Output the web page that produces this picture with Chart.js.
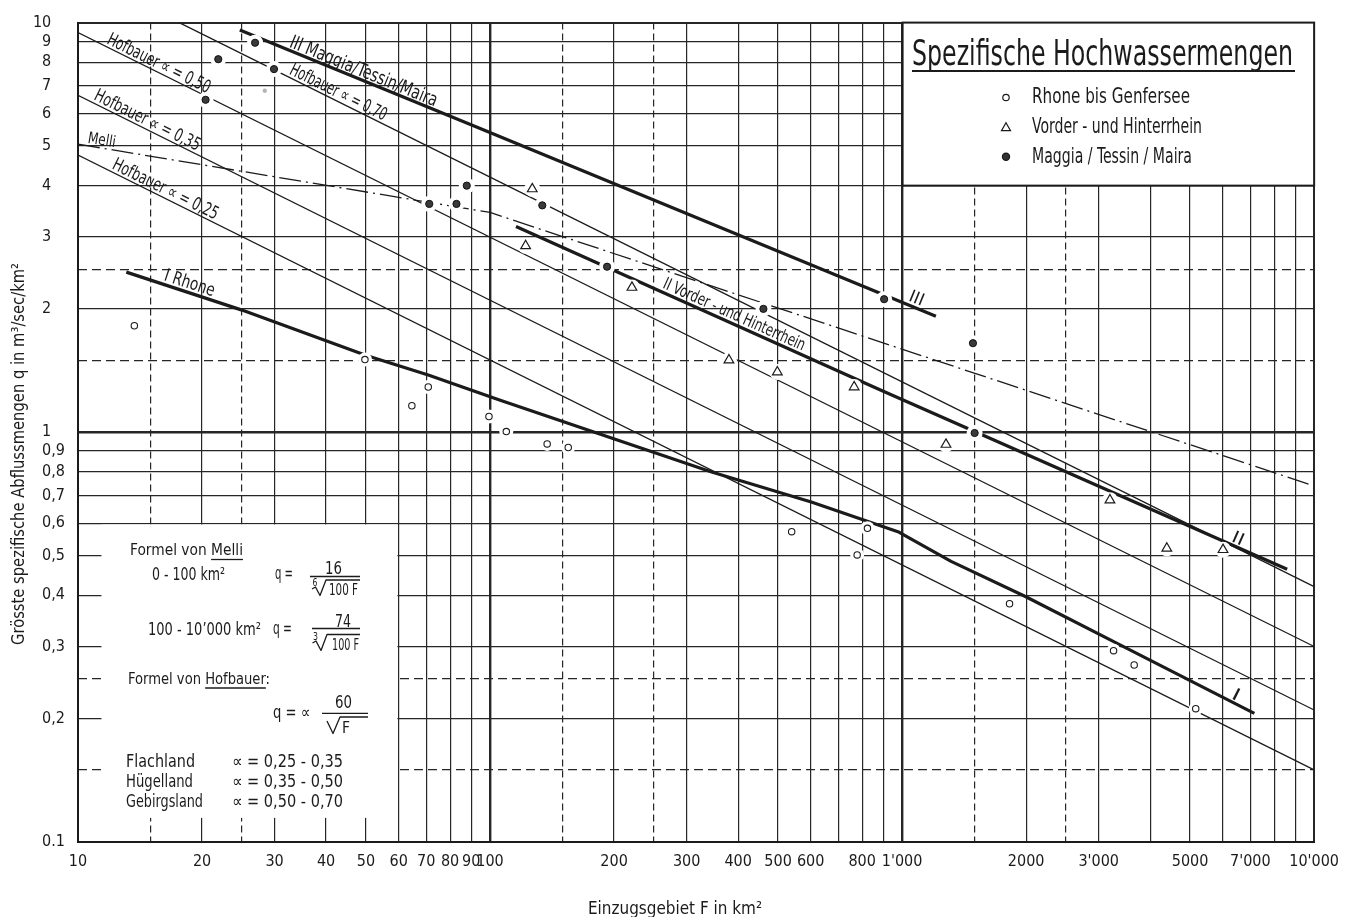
<!DOCTYPE html>
<html>
<head>
<meta charset="utf-8">
<title>Spezifische Hochwassermengen</title>
<script src="https://cdn.jsdelivr.net/npm/chart.js@4.4.1/dist/chart.umd.min.js"></script>
<style>
html,body{margin:0;padding:0;background:#ffffff;}
canvas{display:block;}
</style>
</head>
<body>
<canvas id="chart" width="1349" height="917"></canvas>
<script>
// ---------------- data ----------------
const xGridSolid  = [10,20,30,40,50,60,70,80,90,100,200,300,400,500,600,700,800,900,1000,2000,3000,4000,5000,6000,7000,8000,9000,10000];
const xGridDashed = [15,25,150,250,1500,2500];
const xTickValues = [10,20,30,40,50,60,70,80,90,100,200,300,400,500,600,800,1000,2000,3000,5000,7000,10000];
const xTickText   = ['10','20','30','40','50','60','70','80','90','100','200','300','400','500','600','800',"1'000",'2000',"3'000",'5000',"7'000","10'000"];
const yGridSolid  = [0.1,0.2,0.3,0.4,0.5,0.6,0.7,0.8,0.9,1,2,3,4,5,6,7,8,9,10];
const yGridDashed = [0.15,0.25,1.5,2.5];
const yTickText   = ['0.1','0,2','0,3','0,4','0,5','0,6','0,7','0,8','0,9','1','2','3','4','5','6','7','8','9','10'];

// observed points: F (km²) and q (m³/sec/km²)
const rhoneF  = [13.7, 49.7, 64.6, 70.8, 99.4, 109.5, 137.6, 154.8, 539.5, 824, 778, 1823, 3260, 3658, 5160];
const rhoneQ  = [1.82, 1.505, 1.161, 1.29, 1.093, 1.004, 0.937, 0.918, 0.572, 0.583, 0.502, 0.3815, 0.293, 0.2704, 0.2115];
const rheinF  = [126.6, 122, 221, 380, 498, 765, 1278, 3195, 4390, 6010];
const rheinQ  = [3.926, 2.851, 2.257, 1.50, 1.403, 1.29, 0.934, 0.683, 0.521, 0.517];
const maggiaF = [20.4, 21.9, 26.9, 29.9, 71.2, 82.9, 87.8, 133.9, 192.3, 460.7, 904.5, 1486, 1500];
const maggiaQ = [6.48, 8.14, 8.93, 7.70, 3.61, 3.61, 4.0, 3.58, 2.536, 2.001, 2.113, 1.65, 0.996];
const faintF  = [28.4];
const faintQ  = [6.82];

// curves
const hof070F = [17.6, 10000];  const hof070Q = [10, 0.42];
const hof050F = [10, 10000];    const hof050Q = [9.45, 0.30];
const hof035F = [10, 10000];    const hof035Q = [6.65, 0.21];
const hof025F = [10, 10000];    const hof025Q = [4.75, 0.15];
const melliF  = [10, 100, 10000]; const melliQ = [5.05, 3.44, 0.74];
const curveIF   = [13.1, 24.9, 50.1, 70.8, 105, 345, 602, 977, 1315, 1986, 3335, 7160];
const curveIQ   = [2.46, 1.99, 1.54, 1.38, 1.20, 0.80, 0.676, 0.572, 0.484, 0.398, 0.305, 0.206];
const curveIIF  = [115.6, 875, 8600];  const curveIIQ  = [3.18, 1.275, 0.463];
const curveIIIF = [24.7, 94, 1208];    const curveIIIQ = [9.59, 5.53, 1.92];

// ---------------- styling ----------------
const INK  = '#1b1b1b';
const GRID = '#262626';
const FONT = "'Liberation Sans Narrow','DejaVu Sans Condensed','Arial Narrow','Liberation Sans','DejaVu Sans',sans-serif";

const zip = (F, Q) => F.map((f, i) => ({x: f, y: Q[i]}));
const curves = {
  hof070: zip(hof070F, hof070Q), hof050: zip(hof050F, hof050Q),
  hof035: zip(hof035F, hof035Q), hof025: zip(hof025F, hof025Q),
  melli: zip(melliF, melliQ), I: zip(curveIF, curveIQ),
  II: zip(curveIIF, curveIIQ), III: zip(curveIIIF, curveIIIQ)
};

function lineDs(label, key, width, dash) {
  return {label, data: curves[key], showLine: true, borderColor: INK, borderWidth: width,
    borderDash: dash || [], pointRadius: 0, pointHoverRadius: 0, fill: false, tension: 0,
    order: 2, borderCapStyle: 'butt', borderJoinStyle: 'round'};
}
function haloDs(F, Q, r) {
  return {label: 'halo', data: zip(F, Q), showLine: false, pointRadius: r, pointHoverRadius: r,
    pointBackgroundColor: '#ffffff', pointBorderColor: '#ffffff', pointBorderWidth: 0, order: 1};
}

const xLW = v => (v === 100 || v === 1000) ? 2.4 : (v === 10000 || v === 10) ? 2 : 1.2;
const yLW = v => (v === 1) ? 2.4 : (v === 10 || v === 0.1) ? 2 : 1.2;

// annotation layout (labels on the curves, boxes)
const lineLabels = [
  {line: 'hof050', text: 'Hofbauer ∝ = 0,50', F: 11.6,  len: 113, size: 18, off: 3},
  {line: 'hof070', text: 'Hofbauer ∝ = 0,70', F: 32.2,  len: 106, size: 18, off: 3},
  {line: 'hof035', text: 'Hofbauer ∝ = 0,35', F: 10.8,  len: 116, size: 18, off: 3},
  {line: 'hof025', text: 'Hofbauer ∝ = 0,25', F: 11.95, len: 116, size: 18, off: 3},
  {line: 'melli',  text: 'Melli',             F: 10.5,  len: 28,  size: 16, off: 3},
  {line: 'III',    text: 'III Maggia/Tessin/Maira', F: 32.2, len: 158, size: 19, off: 3},
  {line: 'I',      text: 'I Rhone',           F: 16.0,  len: 52,  size: 18, off: 4},
  {line: 'II',     text: 'II Vorder - und Hinterrhein', F: 259, len: 154, size: 17, off: 4},
  {line: 'III',    text: 'III', F: 1023, len: 15, size: 17, off: 4},
  {line: 'II',     text: 'II',  F: 6223, len: 12, size: 17, off: 3},
  {line: 'I',      text: 'I',   F: 6223, len: 7,  size: 17, off: 3}
];
const formulaBox = {F0: 11.4, F1: 60, q0: 0.1145, q1: 0.6};
const legendBox  = {F0: 1000, F1: 10000, q0: 4, q1: 10};

function interpLog(pts, F) {
  for (let i = 0; i < pts.length - 1; i++) {
    const a = pts[i], b = pts[i + 1];
    if (F >= a.x && F <= b.x) {
      const t = (Math.log(F) - Math.log(a.x)) / (Math.log(b.x) - Math.log(a.x));
      return Math.exp(Math.log(a.y) + t * (Math.log(b.y) - Math.log(a.y)));
    }
  }
  return pts[pts.length - 1].y;
}

function fitText(ctx, text, x, y, o) {
  ctx.save();
  ctx.font = `${o.weight || 'normal'} ${o.size}px ${o.family || FONT}`;
  ctx.fillStyle = o.color || INK;
  ctx.textBaseline = o.baseline || 'alphabetic';
  ctx.textAlign = 'left';
  const w = ctx.measureText(text).width;
  const s = o.width ? o.width / w : 1;
  ctx.translate(x, y);
  if (o.rot) ctx.rotate(o.rot);
  if (o.align === 'center') ctx.translate(-w * s / 2, 0);
  ctx.scale(s, 1);
  ctx.fillText(text, 0, 0);
  ctx.restore();
  return s;
}
function hline(ctx, x0, x1, y, w) {
  ctx.save(); ctx.strokeStyle = INK; ctx.lineWidth = w || 1.3;
  ctx.beginPath(); ctx.moveTo(x0, y); ctx.lineTo(x1, y); ctx.stroke(); ctx.restore();
}
function poly(ctx, pts, w) {
  ctx.save(); ctx.strokeStyle = INK; ctx.lineWidth = w || 1.3; ctx.lineJoin = 'round';
  ctx.beginPath(); ctx.moveTo(pts[0][0], pts[0][1]);
  for (let i = 1; i < pts.length; i++) ctx.lineTo(pts[i][0], pts[i][1]);
  ctx.stroke(); ctx.restore();
}
function marker(ctx, style, r, fill, x, y) {
  ctx.save();
  ctx.fillStyle = fill; ctx.strokeStyle = INK; ctx.lineWidth = 1.2;
  if (Chart.helpers && Chart.helpers.drawPoint) {
    Chart.helpers.drawPoint(ctx, {pointStyle: style, rotation: 0, radius: r, borderWidth: 1.2}, x, y);
  } else {
    ctx.beginPath(); ctx.arc(x, y, r, 0, Math.PI * 2); ctx.fill(); ctx.stroke();
  }
  ctx.restore();
}

const Y_TICK_SIZE = 16;
// suffix so whole numbers line up with the "0" of decimal labels
let intSuffix = '\u2008\u2007';
(function () {
  const c = document.createElement('canvas').getContext('2d');
  c.font = `${Y_TICK_SIZE}px ${FONT}`;
  const target = c.measureText('0,9').width - c.measureText('9').width;
  const cands = ['\u2007', '\u2002', '\u0020', '\u2009', '\u200A'];
  let s = '', w = 0;
  for (let k = 0; k < 12; k++) {
    let best = null, bestErr = Math.abs(target - w);
    for (const ch of cands) {
      const nw = c.measureText(s + ch).width;
      const err = Math.abs(target - nw);
      if (err < bestErr - 0.1) { bestErr = err; best = ch; }
    }
    if (!best) break;
    s += best; w = c.measureText(s).width;
  }
  if (s) intSuffix = s;
})();

const decor = {
  id: 'decor',
  afterDraw(chart) {
    const ctx = chart.ctx, sx = chart.scales.x, sy = chart.scales.y;
    const X = F => sx.getPixelForValue(F), Y = q => sy.getPixelForValue(q);

    // formula box (white panel, grid stubs remain at the edges)
    ctx.save();
    ctx.fillStyle = '#ffffff';
    ctx.fillRect(X(formulaBox.F0), Y(formulaBox.q1) + 1.3, X(formulaBox.F1) - 1.2 - X(formulaBox.F0), Y(formulaBox.q0) - Y(formulaBox.q1) - 1.3);
    // legend box
    const lx0 = X(legendBox.F0), lx1 = X(legendBox.F1), ly0 = Y(legendBox.q1), ly1 = Y(legendBox.q0);
    ctx.fillRect(lx0, ly0, lx1 - lx0, ly1 - ly0);
    ctx.strokeStyle = INK; ctx.lineWidth = 2;
    ctx.strokeRect(lx0 + 0.5, ly0, lx1 - lx0 - 0.5, ly1 - ly0);
    ctx.restore();

    // legend content
    fitText(ctx, 'Spezifische Hochwassermengen', 912, 65, {size: 36, width: 381});
    hline(ctx, 912, 1295, 71, 2);
    marker(ctx, 'circle', 3.2, '#ffffff', 1006, 97.5);
    fitText(ctx, 'Rhone bis Genfersee', 1032, 103, {size: 21, width: 158});
    marker(ctx, 'triangle', 5.2, '#ffffff', 1006, 128);
    fitText(ctx, 'Vorder - und Hinterrhein', 1032, 133, {size: 21, width: 170});
    marker(ctx, 'circle', 3.6, '#333333', 1006, 156.7);
    fitText(ctx, 'Maggia / Tessin / Maira', 1032, 163, {size: 21, width: 160});

    // labels along the curves
    for (const L of lineLabels) {
      const pts = curves[L.line];
      const F2 = L.F * 1.05;
      const x0 = X(L.F), y0 = Y(interpLog(pts, L.F));
      const x1 = X(F2), y1 = Y(interpLog(pts, F2));
      const ang = Math.atan2(y1 - y0, x1 - x0);
      ctx.save();
      ctx.translate(x0, y0); ctx.rotate(ang);
      fitText(ctx, L.text, 0, -L.off, {size: L.size, width: L.len});
      ctx.restore();
    }

    // formula panel text
    const s1 = fitText(ctx, 'Formel von Melli', 130, 555, {size: 16, width: 113});
    ctx.save(); ctx.font = `16px ${FONT}`;
    const pre1 = ctx.measureText('Formel von ').width * s1;
    ctx.restore();
    hline(ctx, 130 + pre1, 243, 559.5, 1.3);
    fitText(ctx, '0 - 100 km²', 152, 580, {size: 17, width: 73});
    fitText(ctx, 'q =', 275, 579, {size: 17, width: 18});
    fitText(ctx, '16', 325, 574, {size: 17, width: 17});
    hline(ctx, 310, 360, 576.5, 1.3);
    fitText(ctx, '6', 312.5, 586, {size: 10, width: 5});
    poly(ctx, [[312, 589], [315.5, 587], [320, 595.5], [326, 580], [360, 580]], 1.3);
    fitText(ctx, '100 F', 329, 595, {size: 16, width: 29});

    fitText(ctx, '100 - 10\u2019000 km²', 148, 635, {size: 17, width: 113});
    fitText(ctx, 'q =', 273, 634, {size: 17, width: 19});
    fitText(ctx, '74', 335, 626.5, {size: 17, width: 16});
    hline(ctx, 312, 360, 628.5, 1.3);
    fitText(ctx, '3', 313, 640, {size: 10, width: 5});
    poly(ctx, [[312.5, 643], [316, 641], [321, 650.5], [327, 634.5], [360, 634.5]], 1.3);
    fitText(ctx, '100 F', 332, 650, {size: 16, width: 27});

    const s2 = fitText(ctx, 'Formel von Hofbauer:', 128, 684, {size: 16, width: 142});
    ctx.save(); ctx.font = `16px ${FONT}`;
    const pre2 = ctx.measureText('Formel von ').width * s2;
    const hb = ctx.measureText('Hofbauer').width * s2;
    ctx.restore();
    hline(ctx, 128 + pre2, 128 + pre2 + hb, 688, 1.3);
    fitText(ctx, 'q = ∝', 273, 718, {size: 17, width: 37});
    fitText(ctx, '60', 335, 708, {size: 17, width: 17});
    hline(ctx, 322, 368, 713.3, 1.3);
    poly(ctx, [[327, 721], [333, 733.5], [340, 717], [368, 717]], 1.3);
    fitText(ctx, 'F', 342, 733, {size: 16, width: 8});

    const rows = [['Flachland', 69, '∝ = 0,25 - 0,35', 767], ['Hügelland', 67, '∝ = 0,35 - 0,50', 787], ['Gebirgsland', 77, '∝ = 0,50 - 0,70', 807]];
    for (const r of rows) {
      fitText(ctx, r[0], 126, r[3], {size: 17, width: r[1]});
      fitText(ctx, r[2], 232, r[3], {size: 17, width: 111});
    }

    // axis titles
    ctx.save();
    ctx.translate(24, 454); ctx.rotate(-Math.PI / 2);
    fitText(ctx, 'Grösste spezifische Abflussmengen q in m³/sec/km²', 0, 0, {size: 17, width: 382, align: 'center'});
    ctx.restore();
    fitText(ctx, 'Einzugsgebiet F in km²', 675, 914, {size: 17, width: 174, align: 'center'});
  }
};

const data = {
  datasets: [
    {label: 'Rhone bis Genfersee', data: zip(rhoneF, rhoneQ), showLine: false, pointStyle: 'circle',
      pointRadius: 3.2, pointBackgroundColor: '#ffffff', pointBorderColor: INK, pointBorderWidth: 1.1, order: 0},
    {label: 'Vorder- und Hinterrhein', data: zip(rheinF, rheinQ), showLine: false, pointStyle: 'triangle',
      pointRadius: 5.6, pointBackgroundColor: '#ffffff', pointBorderColor: INK, pointBorderWidth: 1.2, order: 0},
    {label: 'Maggia / Tessin / Maira', data: zip(maggiaF, maggiaQ), showLine: false, pointStyle: 'circle',
      pointRadius: 3.6, pointBackgroundColor: '#3a3a3a', pointBorderColor: '#111111', pointBorderWidth: 1, order: 0},
    {label: 'faint', data: zip(faintF, faintQ), showLine: false, pointStyle: 'circle',
      pointRadius: 2.2, pointBackgroundColor: '#b5b5b5', pointBorderColor: '#b5b5b5', pointBorderWidth: 0, order: 0},
    haloDs(rhoneF, rhoneQ, 7),
    haloDs(rheinF, rheinQ, 8),
    haloDs(maggiaF, maggiaQ, 8),
    lineDs('Hofbauer ∝ = 0,70', 'hof070', 1.25),
    lineDs('Hofbauer ∝ = 0,50', 'hof050', 1.25),
    lineDs('Hofbauer ∝ = 0,35', 'hof035', 1.25),
    lineDs('Hofbauer ∝ = 0,25', 'hof025', 1.25),
    lineDs('Melli', 'melli', 1.3, [22, 5, 2, 5]),
    lineDs('I Rhone', 'I', 3.2),
    lineDs('II Vorder- und Hinterrhein', 'II', 3.2),
    lineDs('III Maggia/Tessin/Maira', 'III', 3.2)
  ]
};

new Chart(document.getElementById('chart'), {
  type: 'scatter',
  data,
  plugins: [decor],
  options: {
    responsive: false,
    maintainAspectRatio: false,
    devicePixelRatio: 1,
    animation: false,
    events: [],
    layout: {padding: {left: 28, top: 18, right: 33, bottom: 0}},
    plugins: {legend: {display: false}, tooltip: {enabled: false}, title: {display: false}},
    scales: {
      x: {
        type: 'logarithmic', position: 'bottom', min: 10, max: 10000, z: 1, weight: 1,
        afterBuildTicks: a => { a.ticks = xGridSolid.map(v => ({value: v})); },
        afterFit: a => { a.height = 75; },
        ticks: {autoSkip: false, maxRotation: 0, minRotation: 0, padding: 10, color: INK,
          font: {family: FONT, size: 16},
          callback: v => { const i = xTickValues.indexOf(v); return i < 0 ? '' : xTickText[i]; }},
        grid: {drawTicks: false, color: GRID, lineWidth: c => xLW(c.tick ? c.tick.value : 0)},
        border: {display: true, color: INK, width: 2}
      },
      x2: {
        type: 'logarithmic', position: 'bottom', min: 10, max: 10000, z: 1, weight: 2,
        afterBuildTicks: a => { a.ticks = xGridDashed.map(v => ({value: v})); },
        afterFit: a => { a.height = 0; },
        ticks: {display: false},
        grid: {drawTicks: false, color: GRID, lineWidth: 1.2},
        border: {display: false, dash: [7, 4]}
      },
      y: {
        type: 'logarithmic', position: 'left', min: 0.1, max: 10, z: 1, weight: 1,
        afterBuildTicks: a => { a.ticks = yGridSolid.map(v => ({value: v})); },
        afterFit: a => { a.width = 50; },
        ticks: {autoSkip: false, padding: 13, color: INK, font: {family: FONT, size: Y_TICK_SIZE},
          callback: (v, i) => { const t = yTickText[i]; return /[.,]/.test(t) ? t : t + intSuffix; }},
        grid: {drawTicks: false, color: GRID, lineWidth: c => yLW(c.tick ? c.tick.value : 0)},
        border: {display: true, color: INK, width: 2}
      },
      y2: {
        type: 'logarithmic', position: 'left', min: 0.1, max: 10, z: 1, weight: 2,
        afterBuildTicks: a => { a.ticks = yGridDashed.map(v => ({value: v})); },
        afterFit: a => { a.width = 0; },
        ticks: {display: false},
        grid: {drawTicks: false, color: GRID, lineWidth: 1.2},
        border: {display: false, dash: [9, 5]}
      }
    }
  }
});
</script>
</body>
</html>
